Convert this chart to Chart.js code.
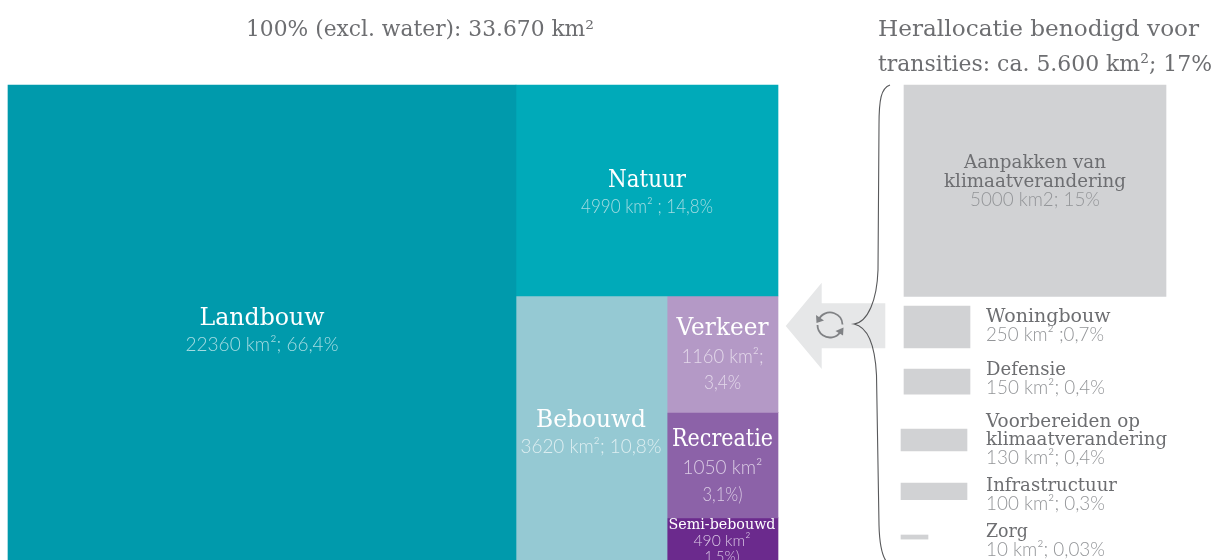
<!DOCTYPE html>
<html><head><meta charset="utf-8">
<style>html,body{margin:0;padding:0;background:#fff}#w{position:relative;width:1212px;height:560px}</style>
<script src="https://cdn.jsdelivr.net/npm/chart.js@4"></script></head>
<body><div id="w"><canvas id="c" width="1212" height="560"></canvas></div>
<script>
// ---- data (km²) ----
const landCategories = ["Landbouw","Natuur","Bebouwd","Verkeer","Recreatie","Semi-bebouwd"];
const landValues = [22360,4990,3620,1160,1050,490];
const transCategories = ["Aanpakken van klimaatverandering","Woningbouw","Defensie","Voorbereiden op klimaatverandering","Infrastructuur","Zorg"];
const transValues = [5000,250,150,130,100,10];

// ---- layout (pixels on the chart's own 0..1212 / 0..560 scales) ----
const LEFT=8, SPLIT_X=516, RIGHT=778, TOP=85, SPLIT_Y=296, LOWER_BOTTOM=567;
const AREA_PER_KM2=(RIGHT-SPLIT_X)*(SPLIT_Y-TOP)/landValues[1];
const landColors=["#009AAC","#00AAB9","#95C9D3","#B499C6","#8C62A8","#6B2A8D"];
const transLeft=[904,904,904,901,901,901];
const transTop=[85,306,369,429,483,535];
const transWidth=[262,66,66,66,66,27];
const GREY="#D1D2D4", TEXT="#6D6E71", SUB="#939598";

function landRects(){
  const v=landValues, col=RIGHT-SPLIT_X;
  const lower=v[2]+v[3]+v[4]+v[5], side=v[3]+v[4]+v[5];
  const xMid=SPLIT_X+col*v[2]/lower+1;
  const h=LOWER_BOTTOM-SPLIT_Y;
  const y1=SPLIT_Y+h*v[3]/side, y2=y1+h*v[4]/side;
  return [
    [LEFT,SPLIT_X,TOP,LOWER_BOTTOM],[SPLIT_X,RIGHT,TOP,SPLIT_Y],[SPLIT_X,xMid,SPLIT_Y,LOWER_BOTTOM],
    [xMid,RIGHT,SPLIT_Y,y1],[xMid,RIGHT,y1,y2],[xMid,RIGHT,y2,LOWER_BOTTOM]
  ];
}
const datasets=[];
landRects().forEach((r,i)=>datasets.push({label:landCategories[i],grouped:false,barThickness:r[1]-r[0],
  backgroundColor:landColors[i],borderWidth:0,data:[{x:(r[0]+r[1])/2,y:[r[2],r[3]]}]}));
transValues.forEach((v,i)=>{const h=v*AREA_PER_KM2/transWidth[i];
  datasets.push({label:transCategories[i],grouped:false,barThickness:transWidth[i],backgroundColor:GREY,borderWidth:0,
   data:[{x:transLeft[i]+transWidth[i]/2,y:[transTop[i],transTop[i]+h]}]});});

// ---- text: [string, x, baseline, align, font-size, colour, max width, kind]
const H="'DejaVu Serif'", L="Lato";
const texts=[
 ["100% (excl. water): 33.670 km²",420,36,"center",22,TEXT,348,"h"],
 ["Herallocatie benodigd voor",878,36,"left",23.2,TEXT,322,"h"],
 ["transities: ca. 5.600 km²; 17%",878,71,"left",23,TEXT,334,"h"],
 ["Landbouw",262,325,"center",24,"#FFFFFF",125,"h"],
 ["22360 km²; 66,4%",262,351,"center",19,"#A5DCE2",154,"s"],
 ["Natuur",647,187,"center",24,"#FFFFFF",78,"h"],
 ["4990 km² ; 14,8%",647,213,"center",19,"#A5DCE2",132,"s"],
 ["Bebouwd",591,427,"center",24,"#FFFFFF",110,"h"],
 ["3620 km²; 10,8%",591,453,"center",19,"#DDEEF1",141,"s"],
 ["Verkeer",722.5,335,"center",24,"#FFFFFF",92,"h"],
 ["1160 km²;",722.5,363,"center",19,"#E3D8EA",82,"s"],
 ["3,4%",722.5,389,"center",19,"#E3D8EA",37,"s"],
 ["Recreatie",722.5,446,"center",24,"#FFFFFF",101,"h"],
 ["1050 km²",722.5,474,"center",19,"#DACBE4",81,"s"],
 ["3,1%)",722.5,501,"center",19,"#DACBE4",40,"s"],
 ["Semi-bebouwd",722,529,"center",14.5,"#FFFFFF",107,"h"],
 ["490 km²",722,546,"center",16,"#D9C6E4",57,"s"],
 ["1,5%)",722,562,"center",16,"#D9C6E4",35,"s"],
 ["Aanpakken van",1035,168,"center",18.5,TEXT,142,"h"],
 ["klimaatverandering",1035,186.5,"center",18.5,TEXT,182,"h"],
 ["5000 km2; 15%",1035,206,"center",19,SUB,130,"s"],
 ["Woningbouw",986,322,"left",19,TEXT,125,"h"],
 ["250 km² ;0,7%",986,341,"left",19,SUB,118,"s"],
 ["Defensie",986,375,"left",18.5,TEXT,80,"h"],
 ["150 km²; 0,4%",986,394,"left",19,SUB,119,"s"],
 ["Voorbereiden op",986,427,"left",18.5,TEXT,154,"h"],
 ["klimaatverandering",986,445,"left",18.5,TEXT,181,"h"],
 ["130 km²; 0,4%",986,464,"left",19,SUB,119,"s"],
 ["Infrastructuur",986,491,"left",18.5,TEXT,131,"h"],
 ["100 km²; 0,3%",986,510,"left",19,SUB,119,"s"],
 ["Zorg",986,537,"left",18.5,TEXT,42,"h"],
 ["10 km²; 0,03%",986,556,"left",19,SUB,119,"s"]
];

const decor={id:"decor",
 beforeDatasetsDraw(ch){ // the pale arrow sits under everything else
  const c=ch.ctx,X=v=>ch.scales.x.getPixelForValue(v),Y=v=>ch.scales.y.getPixelForValue(v);
  c.save();c.fillStyle="#E6E7E8";c.beginPath();
  [[785.7,326],[821.7,282.7],[821.7,303.3],[885.3,303.3],[885.3,348.3],[821.7,348.3],[821.7,369]]
   .forEach((p,i)=>i?c.lineTo(X(p[0]),Y(p[1])):c.moveTo(X(p[0]),Y(p[1])));
  c.closePath();c.fill();c.restore();
 },
 afterDatasetsDraw(ch){
  const c=ch.ctx,X=v=>ch.scales.x.getPixelForValue(v),Y=v=>ch.scales.y.getPixelForValue(v);
  c.save();
  // brace
  c.strokeStyle="#58595B";c.lineWidth=1.1;c.beginPath();
  c.moveTo(X(890),Y(85));
  c.bezierCurveTo(X(881),Y(88),X(879),Y(100),X(879),Y(125));
  c.lineTo(X(878),Y(270));
  c.bezierCurveTo(X(877),Y(300),X(868),Y(322),X(854),Y(324));
  c.bezierCurveTo(X(868),Y(327),X(875),Y(345),X(876.5),Y(375));
  c.lineTo(X(879),Y(525));
  c.bezierCurveTo(X(879.5),Y(545),X(882),Y(555),X(886),Y(561));
  c.stroke();
  // cycle icon
  const cx=X(830),cy=Y(325),r=12.5,d=Math.PI/180;
  c.strokeStyle="#808285";c.fillStyle="#808285";c.lineWidth=1.8;
  c.beginPath();c.arc(cx,cy,r,200*d,358*d);c.stroke();
  c.beginPath();c.arc(cx,cy,r,35*d,180*d);c.stroke();
  c.beginPath();c.moveTo(X(816),Y(315));c.lineTo(X(824),Y(320.5));c.lineTo(X(816.5),Y(323));c.closePath();c.fill();
  c.beginPath();c.moveTo(X(843.5),Y(327.5));c.lineTo(X(843),Y(335.5));c.lineTo(X(835.5),Y(331));c.closePath();c.fill();
  // labels
  c.textBaseline="alphabetic";
  texts.forEach(([s,x,y,a,sz,col,w,k])=>{
    c.font=(k==="s"?"300 "+sz+"px "+L:sz+"px "+H);
    c.textAlign=a;c.fillStyle=col;c.fillText(s,X(x),Y(y),w);
  });
  c.restore();
 }};

new Chart(document.getElementById("c"),{
 type:"bar",
 data:{datasets},
 plugins:[decor],
 options:{responsive:false,animation:false,layout:{padding:0},
  plugins:{legend:{display:false},tooltip:{enabled:false},title:{display:false}},
  scales:{
   x:{type:"linear",min:0,max:1212,display:false,offset:false,grid:{display:false}},
   y:{type:"linear",min:0,max:560,reverse:true,display:false,grid:{display:false}}
  }}
});
</script></body></html>
